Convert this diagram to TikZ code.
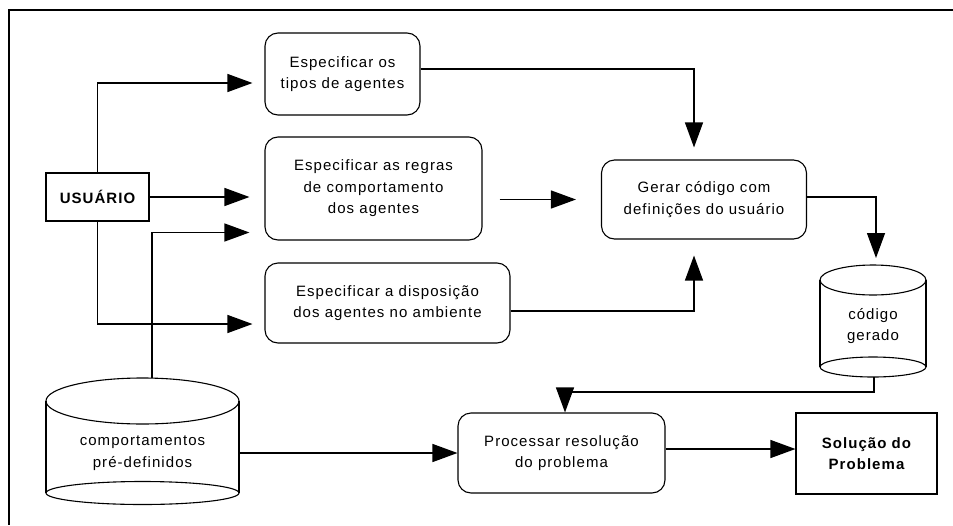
\documentclass[tikz,border=0pt]{standalone}
\usepackage{fontspec}
\setmainfont{Liberation Sans}[LetterSpace=7]
\usetikzlibrary{arrows.meta}
\tikzstyle{arrow} = [line width=1.3pt,->,>={Triangle[length=25pt,width=18pt]}]
\tikzstyle{process} = [draw, line width=1.1pt, rounded corners=13pt, align=center, inner sep=0pt, font=\fontsize{15}{21.5}\selectfont]
\tikzstyle{actor} = [draw, line width=1.1pt, align=center, inner sep=0pt, font=\fontsize{15}{21.5}\selectfont\bfseries]
\tikzstyle{dbtext} = [align=center, inner sep=0pt, font=\fontsize{15}{21.5}\selectfont]

\begin{document}
\begin{tikzpicture}[x=1pt,y=-1pt]
		\useasboundingbox (0,0) rectangle (953,525);
		% moldura
		\draw[line width=1.3pt] (953,10) -- (9,10) -- (9,525);
		% usuario e tarefas
		\node[actor, minimum width=103pt, minimum height=48pt] (usuario) at (97.5,197) {USUÁRIO};
		\node[process, minimum width=155pt, minimum height=82pt] (tipos) at (342.5,74) {Especificar os\\tipos de agentes};
		\node[process, minimum width=217pt, minimum height=103pt] (regras) at (373.5,188.5) {Especificar as regras\\de comportamento\\dos agentes};
		\node[process, minimum width=245pt, minimum height=80pt] (dispos) at (387.5,303) {Especificar a disposição\\dos agentes no ambiente};
		\node[process, minimum width=205pt, minimum height=79pt] (gerar) at (704,199.5) {Gerar código com\\definições do usuário};
		\node[process, minimum width=207pt, minimum height=80pt] (proc) at (561.5,453) {Processar resolução\\do problema};
		\node[actor, minimum width=141pt, minimum height=81pt] (solucao) at (866.5,453.5) {Solução do\\Problema};
		% bancos de dados
		\node[dbtext, minimum width=193pt] (comp) at (142.5,453) {comportamentos\\pré-definidos};
		\draw[line width=1.1pt] (46,401) -- (46,493) (239,401) -- (239,493);
		\draw[line width=1.1pt] (142.5,401) ellipse [x radius=96.5, y radius=23];
		\draw[line width=1.1pt] (142.5,493) ellipse [x radius=96.5, y radius=11.5];
		\node[dbtext, minimum width=106pt] (codigo) at (873,326) {código\\gerado};
		\draw[line width=1.1pt] (820,280) -- (820,367) (926,280) -- (926,367);
		\draw[line width=1.1pt] (873,280) ellipse [x radius=53, y radius=15];
		\draw[line width=1.1pt] (873,367) ellipse [x radius=53, y radius=10];
		\coordinate (comptop) at (152,378);
		\coordinate (codtop) at (876,265);
		\coordinate (codbot) at (874,377);
		% ligacoes
		\draw[arrow, shorten >=12pt] (usuario.north) |- ([yshift=-9pt]tipos.west);
		\draw[arrow, shorten >=15pt] (usuario.east) -- (usuario.east -| regras.west);
		\draw[arrow, shorten >=12pt] (usuario.south) |- ([yshift=-21pt]dispos.west);
		\draw[arrow, shorten >=15pt] (comptop) |- ([yshift=-44pt]regras.west);
		\draw[arrow, shorten >=12pt] ([yshift=5pt]tipos.east) -| ([xshift=-10pt]gerar.north);
		\draw[arrow, shorten <=17pt, shorten >=25pt] (regras.east |- gerar.west) -- (gerar.west);
		\draw[arrow, shorten >=16pt] ([yshift=-8pt]dispos.east) -| ([xshift=-10pt]gerar.south);
		\draw[arrow, shorten >=7pt] ([yshift=2.5pt]gerar.east) -| (codtop);
		\draw[arrow] (codbot) -- ++(0,15) -| ([xshift=3.5pt]proc.north);
		\draw[arrow] (comp.east) -- (comp.east -| proc.west);
		\draw[arrow] ([yshift=4pt]proc.east) -- ([yshift=4pt]proc.east -| solucao.west);
\end{tikzpicture}
\end{document}
